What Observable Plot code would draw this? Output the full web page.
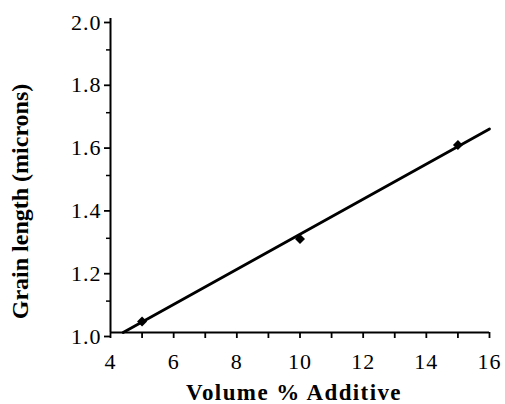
<!DOCTYPE html>
<html>
<head>
<meta charset="utf-8">
<script src="https://cdn.jsdelivr.net/npm/d3@7"></script>
<script src="https://cdn.jsdelivr.net/npm/@observablehq/plot@0.6"></script>
<style>
  html, body { margin: 0; padding: 0; background: #fff; overflow: hidden; }
  svg text { font-family: "Liberation Serif", "Times New Roman", Times, serif !important; }
  g[aria-label="x-axis tick label"] text, g[aria-label="y-axis tick label"] text { letter-spacing: 1px; font-size: 22px !important; }
  g.xtitle text { letter-spacing: 1.4px; }
</style>
</head>
<body>
<div id="chart"></div>
<script>
const additive = [5, 10, 15];
const grainLength = [1.035, 1.298, 1.597];
const fitX = [4.4, 16];
const fitY = [1.0, 1.648];
const xTicks = [4, 5, 6, 7, 8, 9, 10, 11, 12, 13, 14, 15, 16];
const yMajor = [1.0, 1.2, 1.4, 1.6, 1.8, 2.0];
const yMinor = [1.1, 1.3, 1.5, 1.7, 1.9];
const xTitle = "Volume % Additive";
const yTitle = "Grain length (microns)";

const points = additive.map((x, i) => ({x, y: grainLength[i]}));
const fit = fitX.map((x, i) => ({x, y: fitY[i]}));
const serif = "'Liberation Serif', 'Times New Roman', Times, serif";

const chart = Plot.plot({
  width: 505,
  height: 404,
  marginLeft: 110,
  marginRight: 16,
  marginTop: 18,
  marginBottom: 72,
  style: {background: "#fff", color: "#000", fontFamily: serif},
  x: {domain: [4, 16]},
  y: {domain: [1.0, 2.0]},
  marks: [
    Plot.axisX({ticks: xTicks, tickFormat: d => d % 2 === 0 ? String(d) : "", tickSize: 6, tickPadding: 15, strokeWidth: 1.8,
      label: null, fontFamily: serif, fontSize: 22}),
    Plot.axisY({ticks: yMajor, tickFormat: d3.format(".1f"), tickSize: 6, tickPadding: 3, strokeWidth: 1.8,
      label: null, fontFamily: serif, fontSize: 22, dy: 4}),
    Plot.axisY({ticks: yMinor, tickFormat: () => "", tickSize: 4, strokeWidth: 1.5, label: null}),
    Plot.ruleY([1.0], {stroke: "#000", strokeWidth: 2}),
    Plot.ruleX([4], {stroke: "#000", strokeWidth: 2}),
    Plot.line(fit, {x: "x", y: "y", stroke: "#000", strokeWidth: 2.8}),
    Plot.dot(points, {x: "x", y: "y", symbol: "diamond2", r: 4.5, fill: "#000", stroke: "none"}),
    Plot.text([xTitle], {frameAnchor: "bottom", textAnchor: "middle", dx: -6, dy: 60, lineAnchor: "middle", text: d => d,
      fontFamily: serif, fontSize: 23, fontWeight: "bold", fill: "#000", className: "xtitle"}),
    Plot.text([yTitle], {frameAnchor: "left", textAnchor: "middle", dx: -90, dy: 26, rotate: -90, lineAnchor: "middle", text: d => d,
      fontFamily: serif, fontSize: 24, fontWeight: "bold", fill: "#000"})
  ]
});
document.getElementById("chart").appendChild(chart);
</script>
</body>
</html>
